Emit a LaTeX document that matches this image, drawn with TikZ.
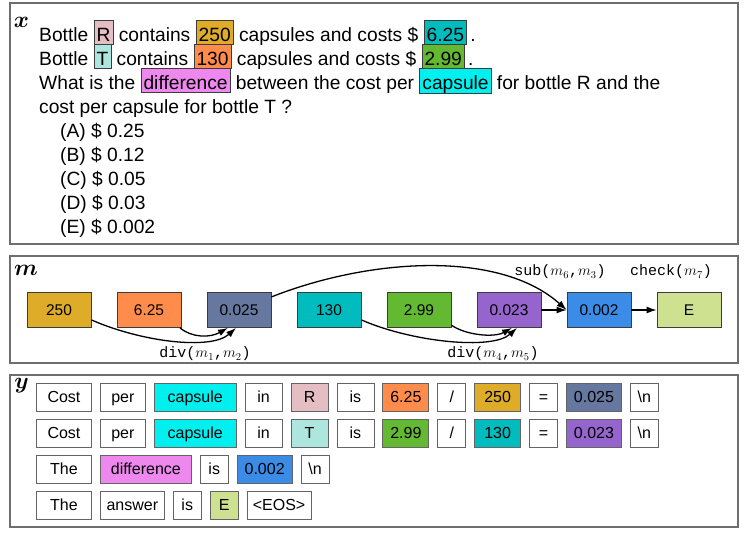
\RequirePackage{fix-cm}
\documentclass[tikz,border=0pt]{standalone}
\usepackage{amsmath}
\usepackage{fontspec}
\setmainfont{Liberation Sans}
\setmonofont{Liberation Mono}
\usetikzlibrary{positioning,arrows.meta}

\definecolor{framegray}{RGB}{110,110,110}
\definecolor{boxline}{RGB}{60,60,60}
\definecolor{tokline}{RGB}{100,100,100}
\definecolor{cR}{RGB}{228,190,195}
\definecolor{cT}{RGB}{172,230,222}
\definecolor{cTwo}{RGB}{222,172,40}
\definecolor{cSix}{RGB}{255,140,75}
\definecolor{cTeal}{RGB}{0,188,190}
\definecolor{cGreen}{RGB}{100,185,50}
\definecolor{cDiff}{RGB}{238,136,238}
\definecolor{cCap}{RGB}{0,240,240}
\definecolor{cA}{RGB}{102,120,160}
\definecolor{cB}{RGB}{150,100,205}
\definecolor{cC}{RGB}{58,140,230}
\definecolor{cE}{RGB}{205,225,145}

% highlighted word in the question
\newcommand{\hl}[2]{{\setlength{\fboxsep}{0pt}\setlength{\fboxrule}{0.7pt}%
  \fcolorbox{boxline}{#1}{\rule[-3.3pt]{0pt}{23.6pt}\hspace{2.3pt}#2\hspace{2.3pt}}}}

\begin{document}
\begin{tikzpicture}[x=1pt,y=-1pt,
  panel/.style={draw=framegray, line width=1.3pt},
  tag/.style={inner sep=0pt, font=\fontsize{23}{23}\selectfont},
  qline/.style={anchor=base west, inner sep=0pt, font=\fontsize{19.2}{24}\selectfont},
  val/.style={draw=boxline, line width=0.8pt, minimum width=64pt, minimum height=35pt, inner sep=0pt,
    text height=11.2pt, text depth=0pt, font=\fontsize{15.5}{18}\selectfont},
  op/.style={inner sep=0pt, font=\fontsize{15}{18}\selectfont},
  tok/.style={draw=tokline, line width=0.9pt, minimum height=28pt, inner sep=0pt,
    text height=11.5pt, text depth=0pt, font=\fontsize{16}{19}\selectfont},
  arr/.style={-{Latex[length=10pt,width=7pt]}, line width=1.3pt}]
\useasboundingbox (0,0) rectangle (750,539);

% panels
\draw[panel] (10,3) rectangle (738,244);
\draw[panel] (10,256) rectangle (738,363);
\draw[panel] (10,375) rectangle (738,527);
\node[tag] (xlab) at (21.5,22) {$\boldsymbol{x}$};
\node[tag] (mlab) at (26,270) {$\boldsymbol{m}$};
\node[tag] (ylab) at (21.5,386) {$\boldsymbol{y}$};

% question
\node[qline] (q1) at (39,41) {Bottle \hl{cR}{R} contains \hl{cTwo}{250} capsules and costs \$ \hl{cTeal}{6.25}\,.};
\node[qline] (q2) at (39,65) {Bottle \hl{cT}{T} contains \hl{cSix}{130} capsules and costs \$ \hl{cGreen}{2.99}\,.};
\node[qline] (q3) at (39,89) {What is the \hl{cDiff}{difference} between the cost per \hl{cCap}{capsule} for bottle R and the};
\node[qline] (q4) at (39,113) {cost per capsule for bottle T ?};
\foreach \o/\v [count=\i] in {A/0.25,B/0.12,C/0.05,D/0.03,E/0.002}
  \node[qline] (opt\i) at (60,113+24*\i) {(\o) \$ \v};

% values
\node[val, fill=cTwo] (v1) at (59,310) {250};
\node[val, fill=cSix] (v2) at (149,310) {6.25};
\node[val, fill=cA] (v3) at (239,310) {0.025};
\node[val, fill=cTeal] (v4) at (329,310) {130};
\node[val, fill=cGreen] (v5) at (419,310) {2.99};
\node[val, fill=cB] (v6) at (509,310) {0.023};
\node[val, fill=cC] (v7) at (599,310) {0.002};
\node[val, fill=cE] (v8) at (689,310) {E};

\draw[arr] (v1.-17) .. controls +(50,22) and +(-25,22.5) .. ([xshift=-3pt]v3.south);
\draw[arr] (v2.-30) .. controls +(12,10) and +(-18,10) .. ([xshift=-11pt]v3.south);
\draw[arr] (v4.-17) .. controls +(50,22) and +(-25,22.5) .. ([xshift=8pt]v6.south);
\draw[arr] (v5.-25) .. controls +(14,10) and +(-18,10) .. ([xshift=3pt]v6.south);
\draw[arr] (v3.22) .. controls +(99,-39) and +(-67,-60) .. (v7.west);
\draw[arr] (v6) -- (v7);
\draw[arr] (v7) -- (v8);

\node[op] (d1) at (205,354) {\texttt{div(}$m_1$\texttt{,}$m_2$\texttt{)}};
\node[op] (d2) at (493,354) {\texttt{div(}$m_4$\texttt{,}$m_5$\texttt{)}};
\node[op] (s1) at (560,272) {\texttt{sub(}$m_6$\texttt{,}$m_3$\texttt{)}};
\node[op] (c1) at (671,272) {\texttt{check(}$m_7$\texttt{)}};

% output tokens
\coordinate (r1-0) at (28,397);
\foreach \t/\w/\c [count=\i, remember=\i as \j (initially 0)] in
  {Cost/55/white, per/45/white, capsule/82/cCap, in/37/white, R/37/cR, is/37/white,
   6.25/46/cSix, {/}/28/white, 250/46/cTwo, =/28/white, 0.025/55/cA, \textbackslash n/28/white}
  \node[tok, minimum width=\w pt, fill=\c, right=8pt of r1-\j] (r1-\i) {\t};
\coordinate (r2-0) at (28,433);
\foreach \t/\w/\c [count=\i, remember=\i as \j (initially 0)] in
  {Cost/55/white, per/45/white, capsule/82/cCap, in/37/white, T/37/cT, is/37/white,
   2.99/46/cGreen, {/}/28/white, 130/46/cTeal, =/28/white, 0.023/55/cB, \textbackslash n/28/white}
  \node[tok, minimum width=\w pt, fill=\c, right=8pt of r2-\j] (r2-\i) {\t};
\coordinate (r3-0) at (28,469);
\foreach \t/\w/\c [count=\i, remember=\i as \j (initially 0)] in
  {The/55/white, difference/91/cDiff, is/28/white, 0.002/55/cC, \textbackslash n/28/white}
  \node[tok, minimum width=\w pt, fill=\c, right=8pt of r3-\j] (r3-\i) {\t};
\coordinate (r4-0) at (28,505);
\foreach \t/\w/\c [count=\i, remember=\i as \j (initially 0)] in
  {The/55/white, answer/64/white, is/28/white, E/28/cE, <EOS>/64/white}
  \node[tok, minimum width=\w pt, fill=\c, right=8pt of r4-\j] (r4-\i) {\t};
\end{tikzpicture}
\end{document}
